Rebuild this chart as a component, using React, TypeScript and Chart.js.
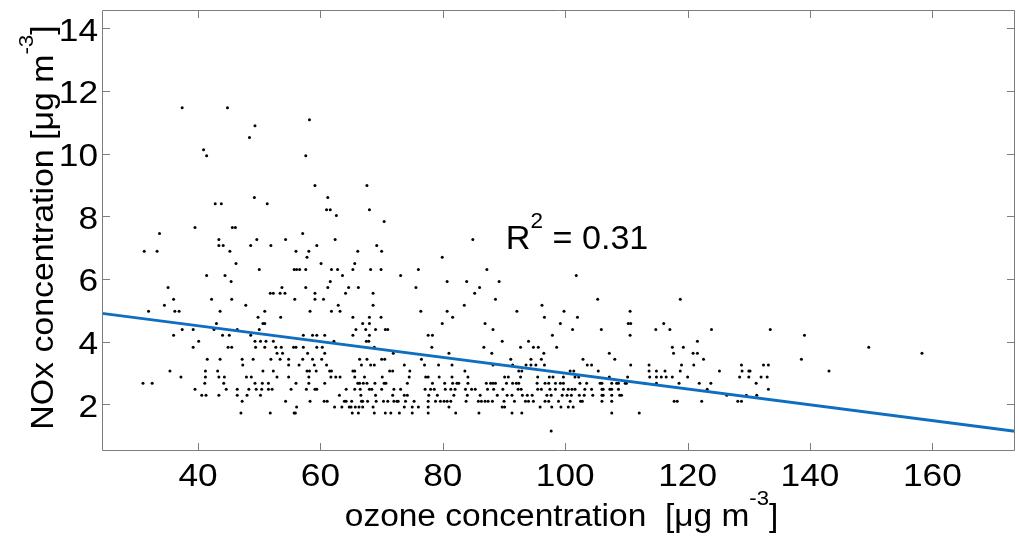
import React, { useEffect, useRef } from 'react';
import { Chart, registerables } from 'chart.js';

Chart.register(...registerables);

// NOx concentration levels (µg m-3) and the ozone concentrations observed at each level
const noxLevels = [
  1.15, 1.72, 1.91, 2.10, 2.29, 2.48, 2.67, 2.87, 3.06, 3.25, 3.44, 3.63, 3.82, 4.01, 4.20, 4.39,
  4.58, 4.78, 4.97, 5.16, 5.35, 5.54, 5.73, 5.92, 6.11, 6.30, 6.49, 6.69, 6.88, 7.07, 7.26, 7.45,
  7.64, 7.83, 8.02, 8.21, 8.40, 8.60, 8.98, 9.93, 10.12, 10.51, 10.89, 11.08, 11.46,
];

const ozoneRows: number[][] = [
  [97.7],
  [47.0, 51.8, 55.7, 55.9, 65.2, 66.2, 68.8, 70.6, 71.5, 72.9, 75.0, 77.6, 82.1, 85.9, 91.3, 92.9, 107.6, 112.1],
  [56.1, 62.3, 63.5, 64.7, 65.0, 65.7, 66.3, 66.9, 68.6, 73.7, 75.0, 76.0, 77.6, 81.0, 89.7, 90.1, 95.9, 97.8, 99.3, 100.5, 101.3],
  [47.2, 54.3, 58.3, 60.6, 61.1, 63.9, 64.2, 65.1, 66.7, 66.9, 67.7, 69.1, 70.3, 71.0, 72.0, 72.5, 72.7, 73.9, 75.3, 77.6,
    78.8, 79.6, 80.2, 80.7, 81.3, 83.8, 85.8, 86.3, 86.9, 87.4, 88.1, 90.0, 91.7, 93.5, 94.0, 94.8, 96.7, 97.3, 98.9,
    100.8, 102.5, 102.8, 106.0, 107.6, 117.8, 118.3, 122.3, 128.2, 128.8],
  [40.6, 41.3, 43.4, 46.4, 48.0, 50.2, 63.1, 66.6, 69.0, 71.8, 73.7, 74.2, 77.7, 79.1, 81.8, 84.0, 86.1, 88.9, 90.5,
    91.3, 93.0, 93.8, 94.6, 97.0, 97.7, 99.5, 100.3, 101.0, 102.3, 103.1, 104.5, 106.0, 106.2, 107.6, 108.9, 109.2,
    126.4, 129.6, 131.3],
  [39.5, 44.6, 46.4, 48.3, 49.5, 50.4, 51.5, 52.1, 55.2, 57.7, 59.1, 59.4, 64.2, 65.6, 66.5, 68.0, 68.4, 70.0, 72.0,
    73.1, 77.1, 78.0, 78.6, 80.4, 81.3, 82.0, 83.7, 84.7, 85.3, 87.3, 88.3, 89.8, 92.3, 92.8, 95.5, 96.1, 97.5, 98.4,
    99.7, 100.5, 101.1, 101.6, 103.2, 104.3, 106.0, 106.2, 107.3, 107.6, 108.7, 123.2, 133.2],
  [31.0, 32.5, 41.1, 44.2, 49.3, 50.5, 51.5, 56.0, 58.1, 60.7, 66.1, 66.4, 67.0, 67.6, 68.9, 70.4, 70.7, 74.2, 78.3,
    80.3, 81.6, 82.3, 82.6, 84.1, 87.1, 87.8, 88.2, 88.6, 90.4, 91.4, 92.0, 92.4, 95.4, 96.7, 97.3, 98.4, 99.2, 99.7,
    102.4, 103.5, 105.7, 106.0, 107.6, 108.4, 108.7, 109.8, 110.0, 113.0, 114.9, 118.6, 121.9, 123.8, 131.2],
  [37.2, 41.2, 43.4, 44.3, 47.9, 48.7, 52.9, 54.8, 58.1, 61.7, 62.5, 63.2, 65.6, 67.2, 70.1, 74.5, 77.2, 77.6, 79.4,
    81.5, 84.1, 90.1, 90.7, 92.7, 95.5, 97.4, 98.0, 99.7, 101.6, 102.2, 107.2, 110.2, 113.8, 114.9, 115.7, 116.5,
    117.5, 120.0, 128.5, 130.0, 132.0, 133.0],
  [35.4, 41.2, 43.2, 50.6, 52.3, 57.8, 58.2, 59.3, 61.5, 61.8, 65.3, 65.6, 71.3, 71.8, 74.6, 83.6, 92.4, 92.9, 100.8,
    101.4, 105.4, 113.7, 114.9, 116.3, 118.8, 125.2, 128.9, 130.0, 130.2, 143.1],
  [47.3, 54.8, 56.5, 59.0, 61.0, 66.7, 68.2, 68.8, 73.7, 77.0, 79.3, 81.5, 88.2, 91.4, 93.6, 94.4, 95.2, 96.6, 103.6,
    104.3, 110.7, 113.7, 119.0, 121.0, 128.8, 132.4, 133.2],
  [41.5, 43.6, 47.2, 49.0, 51.9, 53.4, 54.8, 57.1, 58.7, 60.2, 66.4, 67.6, 70.0, 70.5, 76.5, 91.1, 94.4, 96.1, 102.9,
    108.1, 122.6, 138.6],
  [52.9, 53.8, 57.9, 60.7, 71.9, 81.0, 88.0, 96.5, 107.2, 117.7, 120.9, 121.6, 158.3],
  [39.2, 44.9, 45.5, 49.4, 50.9, 52.7, 53.6, 55.6, 56.0, 57.2, 59.4, 60.3, 68.8, 78.2, 86.7, 92.7, 94.8, 95.6, 98.6,
    117.5, 119.3, 149.6],
  [40.1, 49.3, 50.2, 51.1, 52.3, 62.2, 67.5, 67.9, 89.7, 94.0, 121.6],
  [36.0, 44.0, 45.1, 48.6, 57.2, 58.7, 59.4, 60.7, 65.3, 68.0, 77.6, 78.3, 97.9, 110.6, 139.1],
  [37.4, 39.2, 42.6, 46.4, 50.0, 65.8, 67.4, 69.0, 70.6, 71.0, 88.2, 101.2, 105.9, 114.8, 117.1, 123.9, 133.5],
  [43.0, 50.6, 50.9, 66.9, 68.0, 79.9, 86.9, 99.2, 110.3, 110.7, 116.1],
  [49.8, 53.5, 65.3, 68.0, 69.9, 81.6, 96.6, 102.0],
  [31.9, 36.2, 36.9, 43.6, 50.9, 58.3, 61.8, 63.2, 76.4, 80.7, 92.1, 99.8, 110.6],
  [34.5, 47.8, 62.9, 68.6, 83.5, 96.2],
  [36.0, 42.2, 45.5, 55.8, 59.1, 60.5, 88.6, 105.3, 118.8],
  [51.8, 52.3, 53.4, 54.2, 59.1, 64.1, 68.6, 85.2],
  [35.1, 53.7, 57.6, 61.2, 64.6, 66.2, 75.6, 86.0],
  [45.4, 61.6, 80.7, 83.9, 89.2],
  [41.4, 44.4, 63.6, 73.1, 101.8],
  [50.0, 55.7, 56.1, 56.6, 57.6, 61.8, 62.8, 65.3, 68.2, 69.9, 76.0, 87.2],
  [46.2, 60.1, 65.6],
  [57.8, 79.9],
  [31.2, 33.3, 45.2, 56.0, 58.1, 66.1, 70.0],
  [43.4, 44.1, 48.6, 51.9, 59.4, 69.2],
  [43.4, 49.6, 54.3, 62.4, 84.9],
  [33.7, 57.1],
  [39.5, 45.6, 46.1],
  [70.4],
  [62.6],
  [61.0, 61.6, 68.0],
  [42.8, 43.8, 51.3],
  [49.2, 61.2],
  [59.1, 67.6],
  [41.4, 57.6],
  [40.9],
  [48.4],
  [49.3],
  [58.2],
  [37.4, 44.8],
];

// Least-squares fit line end points (at the axis limits)
const fitOzone = [24.3, 173.5];
const fitNox = [4.9, 1.14];

const xRange = [24.3, 173.5];
const yRange = [0.51, 14.58];
const xTickValues = [40, 60, 80, 100, 120, 140, 160];
const yTickValues = [2, 4, 6, 8, 10, 12, 14];

const xTitleParts = [{ text: 'ozone concentration  [\u03bcg m' }, { text: '-3', sup: true }, { text: ']' }];
const yTitleParts = [{ text: 'NOx concentration [\u03bcg m' }, { text: '-3', sup: true }, { text: ']' }];
const r2Parts = [{ text: 'R' }, { text: '2', sup: true }, { text: ' = 0.31' }];
const r2Position = [90.3, 6.94];

const FONT = '"Liberation Sans", Arial, Helvetica, sans-serif';
const AXIS_COLOR = '#7d7d7d';
const FIT_COLOR = '#0f6ebf';

type Part = { text: string; sup?: boolean };

function drawRich(
  ctx: CanvasRenderingContext2D,
  parts: Part[],
  x: number,
  y: number,
  align: 'left' | 'center' | 'right',
  size: number,
  stretch: number,
) {
  const supSize = size * 0.66;
  const raise = size * 0.67;
  const widths = parts.map((p) => {
    ctx.font = `${p.sup ? supSize : size}px ${FONT}`;
    return ctx.measureText(p.text).width;
  });
  const total = widths.reduce((a, b) => a + b, 0);
  let cx = align === 'center' ? -total / 2 : align === 'right' ? -total : 0;
  ctx.save();
  ctx.translate(x, y);
  ctx.scale(stretch, 1);
  ctx.textAlign = 'left';
  ctx.textBaseline = 'alphabetic';
  ctx.fillStyle = '#000';
  parts.forEach((p, i) => {
    ctx.font = `${p.sup ? supSize : size}px ${FONT}`;
    ctx.fillText(p.text, cx, p.sup ? -raise : 0);
    cx += widths[i];
  });
  ctx.restore();
}

const matlabAxes = {
  id: 'matlabAxes',
  afterDraw(chart: any) {
    const { ctx, chartArea: a, scales } = chart;
    const xs = scales.x;
    const ys = scales.y;
    ctx.save();
    ctx.strokeStyle = AXIS_COLOR;
    ctx.lineWidth = 1;
    ctx.beginPath();
    ctx.rect(a.left + 0.5, a.top + 0.5, a.right - a.left - 1, a.bottom - a.top - 1);
    ctx.stroke();
    const tl = 8;
    ctx.beginPath();
    xTickValues.forEach((v) => {
      const px = Math.round(xs.getPixelForValue(v)) + 0.5;
      ctx.moveTo(px, a.bottom);
      ctx.lineTo(px, a.bottom - tl);
      ctx.moveTo(px, a.top);
      ctx.lineTo(px, a.top + tl);
    });
    yTickValues.forEach((v) => {
      const py = Math.round(ys.getPixelForValue(v)) + 0.5;
      ctx.moveTo(a.left, py);
      ctx.lineTo(a.left + tl, py);
      ctx.moveTo(a.right, py);
      ctx.lineTo(a.right - tl, py);
    });
    ctx.stroke();
    ctx.restore();

    // tick labels
    xTickValues.forEach((v) => {
      drawRich(ctx, [{ text: String(v) }], xs.getPixelForValue(v), a.bottom + 35, 'center', 31.5, 1.12);
    });
    yTickValues.forEach((v) => {
      drawRich(ctx, [{ text: String(v) }], a.left - 4, ys.getPixelForValue(v) + 12.5, 'right', 31.5, 1.12);
    });

    // axis titles
    drawRich(ctx, xTitleParts, (a.left + a.right) / 2 + 3, a.bottom + 75, 'center', 31, 1.08);
    ctx.save();
    ctx.translate(a.left - 49, (a.top + a.bottom) / 2 - 3);
    ctx.rotate(-Math.PI / 2);
    drawRich(ctx, yTitleParts, 0, 0, 'center', 30.5, 1.11);
    ctx.restore();

    // R^2 annotation
    drawRich(ctx, r2Parts, xs.getPixelForValue(r2Position[0]), ys.getPixelForValue(r2Position[1]), 'left', 32.5, 1.05);
  },
};

export default function App() {
  const ref = useRef<HTMLCanvasElement | null>(null);

  useEffect(() => {
    if (!ref.current) return;
    const points: { x: number; y: number }[] = [];
    noxLevels.forEach((nox, i) => {
      ozoneRows[i].forEach((oz) => points.push({ x: oz, y: nox }));
    });
    const chart = new Chart(ref.current, {
      type: 'scatter',
      data: {
        datasets: [
          {
            type: 'line',
            label: 'fit',
            data: fitOzone.map((x, i) => ({ x, y: fitNox[i] })),
            borderColor: FIT_COLOR,
            borderWidth: 2.8,
            pointRadius: 0,
            fill: false,
            order: 0,
          } as any,
          {
            type: 'scatter',
            label: 'observations',
            data: points,
            backgroundColor: '#000',
            borderWidth: 0,
            pointRadius: 1.5,
            order: 1,
          },
        ],
      },
      options: {
        responsive: false,
        maintainAspectRatio: false,
        animation: false,
        layout: { padding: { top: 10, right: 1, left: 0, bottom: 0 } },
        plugins: { legend: { display: false }, tooltip: { enabled: false } },
        scales: {
          x: {
            type: 'linear',
            min: xRange[0],
            max: xRange[1],
            ticks: { display: false },
            grid: { display: false, drawTicks: false },
            border: { display: false },
            afterBuildTicks: (s: any) => {
              s.ticks = xTickValues.map((value) => ({ value }));
            },
            afterFit: (s: any) => {
              s.height = 87;
            },
          },
          y: {
            type: 'linear',
            min: yRange[0],
            max: yRange[1],
            ticks: { display: false },
            grid: { display: false, drawTicks: false },
            border: { display: false },
            afterBuildTicks: (s: any) => {
              s.ticks = yTickValues.map((value) => ({ value }));
            },
            afterFit: (s: any) => {
              s.width = 102;
            },
          },
        },
      },
      plugins: [matlabAxes],
    });
    return () => chart.destroy();
  }, []);

  return (
    <div style={{ position: 'fixed', left: 0, top: 0, width: 1019, height: 538, background: '#fff' }}>
      <canvas ref={ref} width={1019} height={538} style={{ display: 'block', width: 1019, height: 538 }} />
    </div>
  );
}
